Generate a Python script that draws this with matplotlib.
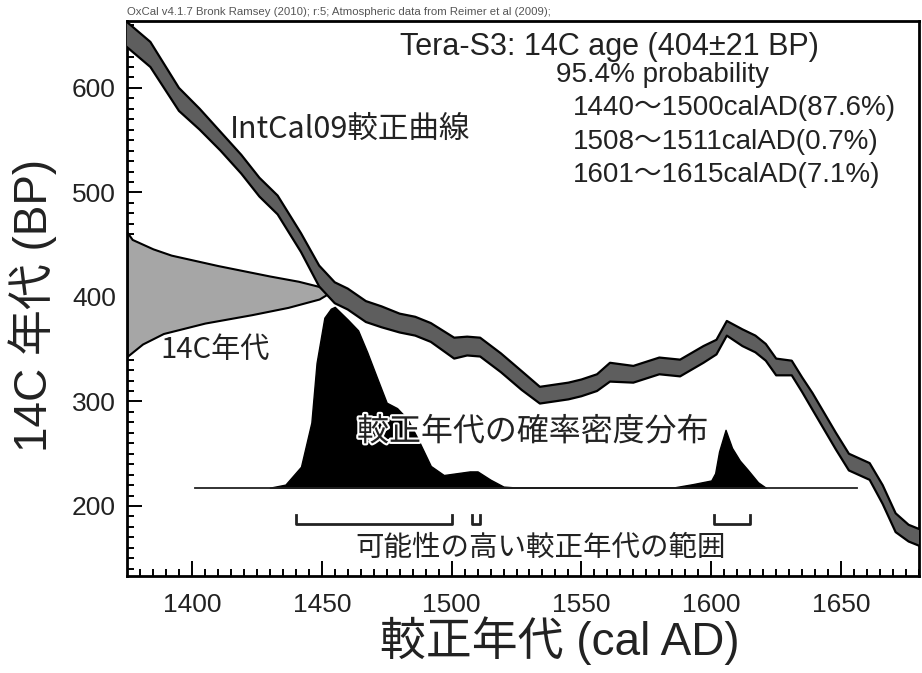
import matplotlib
matplotlib.use('Agg')
import matplotlib.pyplot as plt
import matplotlib.patheffects as pe

# IntCal09 calibration curve (centre and half width, BP)
cal_years = [1375, 1384, 1395, 1403, 1411, 1419, 1426, 1433, 1442, 1449,
             1455, 1460, 1467, 1473, 1480, 1486, 1492, 1501, 1506, 1511,
             1519, 1527, 1534, 1545, 1550, 1556, 1561, 1570, 1580, 1588,
             1597, 1602, 1606, 1612, 1617, 1621, 1625, 1631, 1635, 1639,
             1648, 1653, 1661, 1666, 1671, 1676, 1680]
cal_bp = [651, 632, 589, 570, 549, 527, 505, 488, 452, 420,
          404, 398, 386, 381, 375, 372, 366, 351, 353, 352,
          337, 320, 306, 310, 313, 318, 328, 326, 334, 332,
          345, 352, 370, 361, 355, 347, 333, 332, 316, 300,
          262, 242, 233, 211, 184, 174, 170]
cal_err = [12, 12, 11, 10, 9, 9, 9, 9, 9, 10,
           10, 10, 10, 10, 9, 9, 9, 10, 9, 9,
           9, 9, 8, 8, 8, 8, 9, 8, 8, 8,
           8, 7, 7, 8, 8, 8, 8, 7, 7, 8,
           8, 8, 8, 9, 9, 8, 8]

# 14C age distribution (404 +/- 21 BP), width in years from the left axis
c14_bp = [462, 455, 446, 440, 430, 425, 420, 415, 410, 404,
          398, 390, 383, 375, 365, 355, 343]
c14_width = [0, 2, 10, 17, 35, 45, 55, 66, 74, 78,
             74, 62, 48, 30, 14, 6, 0]

# calibrated age probability (relative)
dens_years = [1430, 1436, 1442, 1446, 1448, 1451, 1453.5, 1455, 1460, 1464,
              1467.5, 1471.5, 1475, 1479, 1483, 1487, 1492, 1497, 1502, 1507,
              1510, 1515, 1520, 1526, 1585, 1593, 1600, 1601.5, 1603, 1605.5,
              1608, 1611, 1614, 1618, 1621]
dens_rel = [0, 0.017, 0.116, 0.36, 0.69, 0.94, 0.99, 1.0, 0.93, 0.87,
            0.75, 0.60, 0.47, 0.44, 0.38, 0.27, 0.12, 0.07, 0.08, 0.09,
            0.09, 0.044, 0.006, 0, 0, 0.02, 0.04, 0.08, 0.2, 0.32,
            0.22, 0.15, 0.10, 0.03, 0]

ranges = [(1440, 1500), (1508, 1511), (1601, 1615)]
range_labels = ['1440～1500calAD(87.6%)', '1508～1511calAD(0.7%)', '1601～1615calAD(7.1%)']

x_ticks = [1400, 1450, 1500, 1550, 1600, 1650]
y_ticks = [200, 300, 400, 500, 600]

X0, X1 = 1375, 1680
Y0, Y1 = 133, 664
dens_base = 217.5
dens_scale = 173
line_start, line_end = 1401, 1656

JP = ['Noto Sans CJK JP']
MIX = ['Liberation Sans', 'Noto Sans CJK JP']

fig = plt.figure(figsize=(9.22, 6.73), dpi=100)
ax = fig.add_axes([127 / 922, 1 - 576 / 673, 792 / 922, 555 / 673])

# 14C age distribution on the y axis
ax.fill_betweenx(c14_bp, X0, [X0 + w for w in c14_width],
                 facecolor='#a6a6a6', edgecolor='black', linewidth=1.5, zorder=2)

# probability density
dens_y = [dens_base + r * dens_scale for r in dens_rel]
ax.fill_between(dens_years, dens_base, dens_y, facecolor='black', edgecolor='black',
                linewidth=1, zorder=3)
ax.plot([line_start, line_end], [dens_base, dens_base], color='#222222', lw=1.3, zorder=3)

# calibration curve band
lo = [c - e for c, e in zip(cal_bp, cal_err)]
hi = [c + e for c, e in zip(cal_bp, cal_err)]
ax.fill_between(cal_years, lo, hi, facecolor='#5e5e5e', edgecolor='none', zorder=4)
ax.plot(cal_years, lo, color='black', lw=1.6, zorder=5)
ax.plot(cal_years, hi, color='black', lw=1.6, zorder=5)

# brackets of the probable ranges
for a, b in ranges:
    ax.plot([a, a, b, b], [191.5, 183, 183, 191.5], color='#222222', lw=2, zorder=3)

ax.set_xlim(X0, X1)
ax.set_ylim(Y0, Y1)
ax.set_xticks(x_ticks)
ax.set_yticks(y_ticks)
ax.set_xticks(range(1380, 1681, 5), minor=True)
ax.set_yticks(range(140, 661, 10), minor=True)
ax.tick_params(which='both', direction='in', top=False, right=False, width=1.4)
ax.tick_params(which='major', length=11, labelsize=19, pad=8)
ax.tick_params(which='minor', length=5)
ax.tick_params(axis='x', pad=12)
for lab in ax.get_xticklabels() + ax.get_yticklabels():
    lab.set_family('Liberation Sans')
    lab.set_color('#222222')
for s in ax.spines.values():
    s.set_linewidth(2)

ax.set_ylabel('14C 年代 (BP)', family=MIX, fontsize=33, color='#222222')
ax.yaxis.set_label_coords(-0.088, 0.488)
ax.set_xlabel('較正年代 (cal AD)', family=MIX, fontsize=33, color='#222222')
ax.xaxis.set_label_coords(0.547, -0.072)

fig.text(127 / 922, 1 - 12 / 673,
         'OxCal v4.1.7 Bronk Ramsey (2010); r:5; Atmospheric data from Reimer et al (2009);',
         fontsize=8.2, color='#555555', family='Liberation Sans', va='center')

ax.text(1480, 639.5, 'Tera-S3: 14C age (404±21 BP)', family=MIX, fontsize=22,
        color='#222222', va='center')
ax.text(1540.2, 612.7, '95.4% probability', family=MIX, fontsize=20,
        color='#222222', va='center')
for lab, yy in zip(range_labels, [581, 548.6, 517]):
    ax.text(1546.7, yy, lab, family=MIX, fontsize=20, color='#222222', va='center')

ax.text(1414.7, 560, 'IntCal09較正曲線', family=JP, fontsize=22, color='#222222',
        va='center', zorder=6)
ax.text(1387.7, 349.7, '14C年代', family=JP, fontsize=21, color='#222222',
        va='center', zorder=6)
ax.text(1463.6, 271, '較正年代の確率密度分布', family=JP, fontsize=23, color='#222222',
        va='center', zorder=6,
        path_effects=[pe.withStroke(linewidth=3, foreground='white')])
ax.text(1462.8, 160, '可能性の高い較正年代の範囲', family=JP, fontsize=20.5,
        color='#222222', va='center', zorder=6)

fig.savefig('out.png', dpi=100)
